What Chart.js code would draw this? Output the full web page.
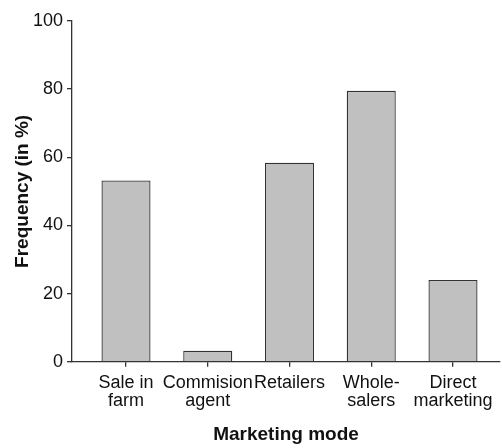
<!DOCTYPE html>
<html>
<head>
<meta charset="utf-8">
<script src="https://cdn.jsdelivr.net/npm/chart.js@4"></script>
<style>
  html, body { margin: 0; padding: 0; background: #fff; }
  #wrap { width: 502px; height: 448px; }
</style>
</head>
<body>
<div id="wrap"><canvas id="myChart" width="502" height="448"></canvas></div>
<script>
// Marketing mode bar chart
var categories = [["Sale in", "farm"], ["Commision", "agent"], ["Retailers"], ["Whole-", "salers"], ["Direct", "marketing"]];
var frequency = [53.2, 3.2, 58.4, 79.5, 24.0];
var yTicks = [0, 20, 40, 60, 80, 100];

var font = "'Liberation Sans', Arial, Helvetica, sans-serif";
var ink = "#333333";

new Chart("myChart", {
  type: "bar",
  data: {
    datasets: [{
      data: frequency.map(function (v, i) { return {x: i, y: v}; }),
      backgroundColor: "#c0c0c0",
      borderColor: ink,
      borderWidth: 1.3,
      barPercentage: 0.6,
      categoryPercentage: 1
    }]
  },
  options: {
    responsive: false,
    animation: false,
    layout: {padding: {top: 21, right: 2, left: 0, bottom: 0}},
    plugins: {legend: {display: false}, tooltip: {enabled: false}},
    scales: {
      x: {
        type: "linear",
        min: -0.6606,
        max: 4.575,
        offset: false,
        grid: {offset: false, drawOnChartArea: false, drawTicks: true, tickLength: 5, color: ink, lineWidth: 1.3},
        border: {display: true, color: ink, width: 1.3},
        afterBuildTicks: function (scale) {
          scale.ticks = categories.map(function (c, i) { return {value: i}; });
        },
        afterFit: function (scale) { scale.height = 448 - 361.7; },
        ticks: {
          autoSkip: false,
          maxRotation: 0,
          padding: 7,
          color: "#111",
          font: {family: font, size: 18, lineHeight: 1.0},
          callback: function (v) { return categories[v]; }
        },
        title: {
          display: true,
          text: "Marketing mode",
          color: "#111",
          font: {family: font, size: 19, weight: "bold"},
          padding: {top: 0, bottom: 2}
        }
      },
      y: {
        min: 0,
        max: 100,
        afterBuildTicks: function (scale) {
          scale.ticks = yTicks.map(function (t) { return {value: t}; });
        },
        afterFit: function (scale) { scale.width = 72; },
        grid: {drawOnChartArea: false, drawTicks: true, tickLength: 5, color: ink, lineWidth: 1.3},
        border: {display: true, color: ink, width: 1.3},
        ticks: {
          padding: 4,
          color: "#111",
          font: {family: font, size: 18}
        },
        title: {
          display: true,
          text: "Frequency (in %)",
          color: "#111",
          font: {family: font, size: 19, weight: "bold"},
          padding: {top: 11, bottom: 0}
        }
      }
    }
  }
});
</script>
</body>
</html>
